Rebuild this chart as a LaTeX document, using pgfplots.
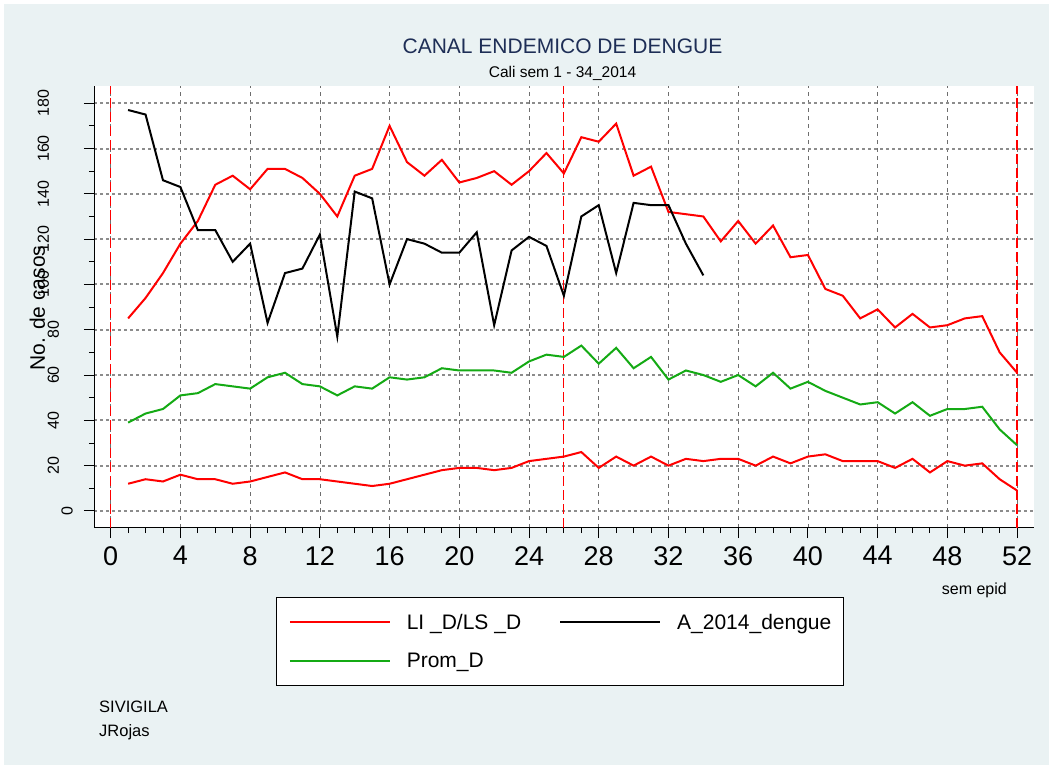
\documentclass[border=0pt]{standalone}
\usepackage{pgfplots}
\pgfplotsset{compat=1.18}
\usepackage{fontspec}
\setmainfont{Liberation Sans}
\definecolor{bgc}{RGB}{234,242,243}
\definecolor{titc}{RGB}{30,46,86}
\definecolor{grn}{RGB}{20,170,20}
\definecolor{gridg}{RGB}{140,140,140}
\definecolor{vgrid}{RGB}{110,110,110}
\begin{document}
\begin{tikzpicture}[x=1pt,y=1pt]
\fill[white] (0,0) rectangle (1053,769);
\fill[bgc] (4,4) rectangle (1049,765);
\begin{axis}[
 at={(94.3pt,241.3pt)}, anchor=south west,
 scale only axis, width=939.7pt, height=441.7pt,
 xmin=-0.94, xmax=52.97, ymin=-7.4, ymax=187.6,
 axis lines*=left, axis line style={-, black, line width=0.9pt},
 axis background/.style={fill=white},
 xtick={0,4,...,52}, minor x tick num=3,
 ytick={0,20,...,180}, minor y tick num=1,
 yticklabels={{0},{\raisebox{14pt}{20}},{\raisebox{14pt}{40}},{\raisebox{14pt}{60}},{\raisebox{14pt}{80}},{\raisebox{24pt}{100}},{\raisebox{24pt}{120}},{\raisebox{24pt}{140}},{\raisebox{24pt}{160}},{\raisebox{24pt}{180}}},
 tick align=outside, major tick length=10.5pt, minor tick length=5.5pt,
 tick style={black, line width=0.9pt},
 xmajorgrids, ymajorgrids,
 x grid style={vgrid, line width=0.7pt, dash pattern=on 4pt off 4pt},
 y grid style={gridg, line width=2pt, dash pattern=on 3pt off 3pt},
 /pgf/number format/assume math mode=true,
 xticklabel style={font=\fontsize{27}{30}\selectfont, inner sep=0pt, anchor=north, yshift=-8pt},
 yticklabel style={font=\fontsize{16}{18}\selectfont, inner sep=0pt, rotate=90, anchor=south, yshift=10.8pt},
 legend columns=2, legend cell align=left,
 legend style={at={(axis description cs:0.19336,-0.1569)}, anchor=north west,
   draw=black, line width=0.8pt, fill=white,
   font=\fontsize{21}{24}\selectfont,
   inner xsep=12.4pt, inner ysep=16.6pt, row sep=22.3pt,
   nodes={inner sep=0pt},
   /tikz/every odd column/.append style={column sep=16pt},
   /tikz/every even column/.append style={column sep=38pt}},
 legend image code/.code={\draw[#1, line width=2pt] (0pt,0pt) -- (100pt,0pt);},
]
\addplot[red, line width=1.2pt, dash pattern=on 10pt off 4pt, forget plot] coordinates {(0,-7.4) (0,187.6)};
\addplot[red, line width=1.2pt, dash pattern=on 10pt off 4pt, forget plot] coordinates {(26,-7.4) (26,187.6)};
\addplot[red, line width=1.2pt, dash pattern=on 10pt off 4pt, forget plot] coordinates {(52,-7.4) (52,187.6)};
% LS (upper limit)
\addplot[red, line width=2pt] coordinates {
(1,85)(2,94)(3,105)(4,118)(5,128)(6,144)(7,148)(8,142)(9,151)(10,151)
(11,147)(12,140)(13,130)(14,148)(15,151)(16,170)(17,154)(18,148)(19,155)(20,145)
(21,147)(22,150)(23,144)(24,150)(25,158)(26,149)(27,165)(28,163)(29,171)(30,148)
(31,152)(32,132)(33,131)(34,130)(35,119)(36,128)(37,118)(38,126)(39,112)(40,113)
(41,98)(42,95)(43,85)(44,89)(45,81)(46,87)(47,81)(48,82)(49,85)(50,86)
(51,70)(52,61)};
\addlegendentry{LI \_D/LS \_D}
% A_2014
\addplot[black, line width=2pt] coordinates {
(1,177)(2,175)(3,146)(4,143)(5,124)(6,124)(7,110)(8,118)(9,83)(10,105)
(11,107)(12,122)(13,77)(14,141)(15,138)(16,100)(17,120)(18,118)(19,114)(20,114)
(21,123)(22,82)(23,115)(24,121)(25,117)(26,95)(27,130)(28,135)(29,105)(30,136)
(31,135)(32,135)(33,118)(34,104)};
\addlegendentry{A\_2014\_dengue\hspace{18pt}}
% Prom
\addplot[grn, line width=2pt] coordinates {
(1,39)(2,43)(3,45)(4,51)(5,52)(6,56)(7,55)(8,54)(9,59)(10,61)
(11,56)(12,55)(13,51)(14,55)(15,54)(16,59)(17,58)(18,59)(19,63)(20,62)
(21,62)(22,62)(23,61)(24,66)(25,69)(26,68)(27,73)(28,65)(29,72)(30,63)
(31,68)(32,58)(33,62)(34,60)(35,57)(36,60)(37,55)(38,61)(39,54)(40,57)
(41,53)(42,50)(43,47)(44,48)(45,43)(46,48)(47,42)(48,45)(49,45)(50,46)
(51,36)(52,29)};
\addlegendentry{Prom\_D}
% LI (lower limit)
\addplot[red, line width=2pt, forget plot] coordinates {
(1,12)(2,14)(3,13)(4,16)(5,14)(6,14)(7,12)(8,13)(9,15)(10,17)
(11,14)(12,14)(13,13)(14,12)(15,11)(16,12)(17,14)(18,16)(19,18)(20,19)
(21,19)(22,18)(23,19)(24,22)(25,23)(26,24)(27,26)(28,19)(29,24)(30,20)
(31,24)(32,20)(33,23)(34,22)(35,23)(36,23)(37,20)(38,24)(39,21)(40,24)
(41,25)(42,22)(43,22)(44,22)(45,19)(46,23)(47,17)(48,22)(49,20)(50,21)
(51,14)(52,9)};
\end{axis}
\node[anchor=base, inner sep=0pt, text=titc, font=\fontsize{21}{24}\selectfont] at (562.5,715.7) {CANAL ENDEMICO DE DENGUE};
\node[anchor=base, inner sep=0pt, font=\fontsize{15.5}{18}\selectfont] at (562.5,691.3) {Cali sem 1 - 34\_2014};
\node[rotate=90, anchor=base, inner sep=0pt, font=\fontsize{21}{24}\selectfont] at (45,461) {No. de casos};
\node[anchor=base east, inner sep=0pt, font=\fontsize{16}{18}\selectfont] at (1007,174) {sem epid};
\node[anchor=base west, inner sep=0pt, font=\fontsize{16.5}{18}\selectfont] at (99,56.3) {SIVIGILA};
\node[anchor=base west, inner sep=0pt, font=\fontsize{16.5}{18}\selectfont] at (99,32.3) {JRojas};
\pgfresetboundingbox
\useasboundingbox (0,0) rectangle (1053,769);
\end{tikzpicture}
\end{document}
